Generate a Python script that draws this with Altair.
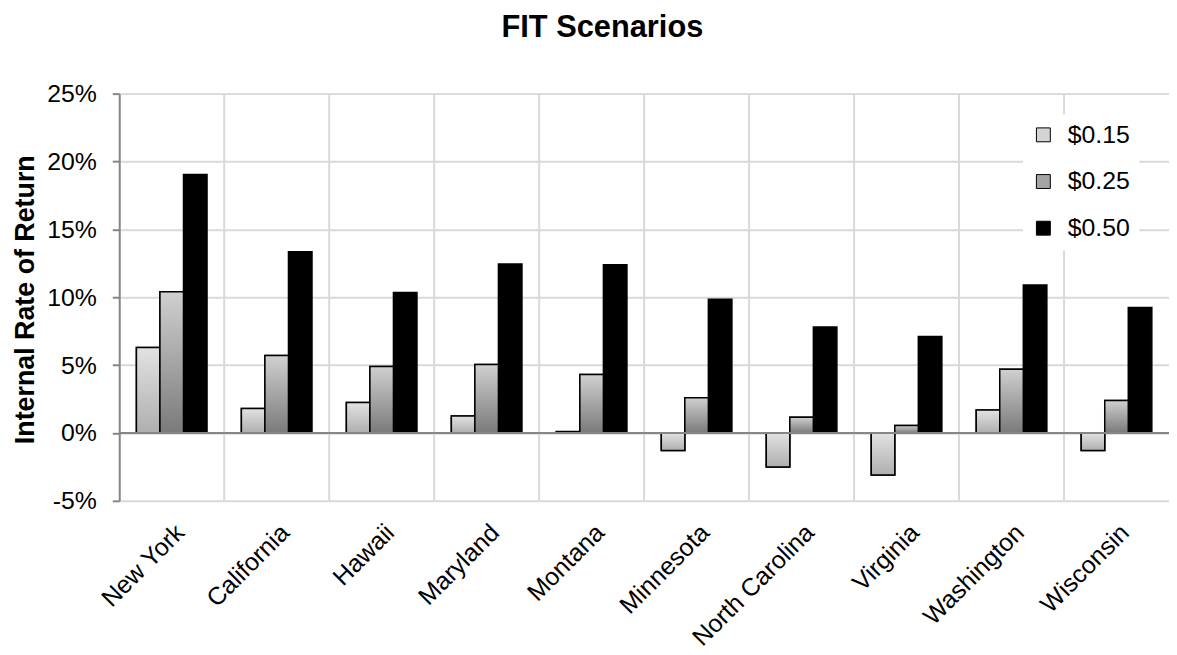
import altair as alt
import pandas as pd

states = ["New York", "California", "Hawaii", "Maryland", "Montana",
          "Minnesota", "North Carolina", "Virginia", "Washington", "Wisconsin"]
series = ["$0.15", "$0.25", "$0.50"]
irr_015 = [6.3, 1.8, 2.25, 1.25, 0.1, -1.3, -2.5, -3.1, 1.7, -1.3]
irr_025 = [10.4, 5.7, 4.9, 5.05, 4.3, 2.6, 1.15, 0.55, 4.7, 2.4]
irr_050 = [19.05, 13.35, 10.35, 12.45, 12.4, 9.85, 7.8, 7.1, 10.9, 9.25]
y_ticks = [-5, 0, 5, 10, 15, 20, 25]

rows = []
for s, vals in zip(series, [irr_015, irr_025, irr_050]):
    for st, v in zip(states, vals):
        rows.append({"state": st, "series": s, "irr": v})
df = pd.DataFrame(rows)

FONT = "Liberation Sans"

x_axis = alt.Axis(labelAngle=-45, labelFontSize=25, labelFont=FONT, labelColor="black",
                  ticks=False, domain=False, grid=False, labelPadding=19, title=None,
                  labelAlign="right", labelBaseline="top", labelLimit=400)
x_scale = alt.Scale(domain=states, paddingInner=0, paddingOuter=0)
x_enc = alt.X("state:N", scale=x_scale, axis=x_axis)
xoff = alt.XOffset("series:N", scale=alt.Scale(domain=series, paddingInner=0, paddingOuter=0.73))
y_axis = alt.Axis(values=y_ticks, labelExpr="datum.value + '%'", labelFontSize=25,
                  labelFont=FONT, labelColor="black", labelPadding=16,
                  tickSize=7, tickColor="#868686", tickWidth=2,
                  domainColor="#868686", domainWidth=2,
                  gridColor="#d9d9d9", gridWidth=2,
                  title="Internal Rate of Return", titleFont=FONT, titleFontSize=27,
                  titleFontWeight="bold", titleColor="black",
                  titleX=-86, titleY=207, titleAngle=270, titleAlign="center",
                  titleBaseline="alphabetic")
y_scale = alt.Scale(domain=[-5, 25], nice=False, zero=False)
y_enc = alt.Y("irr:Q", scale=y_scale, axis=y_axis, stack=None)

grad15 = alt.LinearGradient(gradient="linear", x1=0, x2=0, y1=0, y2=1,
                            stops=[alt.GradientStop(color="#e2e2e2", offset=0),
                                   alt.GradientStop(color="#afafaf", offset=1)])
grad25 = alt.LinearGradient(gradient="linear", x1=0, x2=0, y1=0, y2=1,
                            stops=[alt.GradientStop(color="#d0d0d0", offset=0),
                                   alt.GradientStop(color="#7a7a7a", offset=1)])

vgrid = alt.Chart(pd.DataFrame({"state": states[1:]})).mark_rule(
    color="#d9d9d9", strokeWidth=2
).encode(x=alt.X("state:N", scale=x_scale, axis=x_axis, bandPosition=0))

base = alt.Chart(df).mark_bar(stroke="black", strokeWidth=1.5).encode(
    x=x_enc, xOffset=xoff, y=y_enc,
    color=alt.Color("series:N",
                    scale=alt.Scale(domain=series, range=["#d4d4d4", "#a4a4a4", "#000000"]),
                    legend=alt.Legend(orient="none", legendX=910, legendY=21, padding=8,
                                      fillColor="white", strokeColor="white",
                                      symbolType="square", symbolSize=196,
                                      symbolStrokeColor="black", symbolStrokeWidth=1,
                                      symbolOpacity=1,
                                      labelFontSize=25, labelFont=FONT, labelColor="black",
                                      labelOffset=12, rowPadding=21, title=None)),
)

over15 = alt.Chart(df).transform_filter(alt.datum.series == "$0.15").mark_bar(
    fill=grad15, stroke="black", strokeWidth=1.5
).encode(x=x_enc, xOffset=xoff, y=y_enc)

over25 = alt.Chart(df).transform_filter(alt.datum.series == "$0.25").mark_bar(
    fill=grad25, stroke="black", strokeWidth=1.5
).encode(x=x_enc, xOffset=xoff, y=y_enc)

zero = alt.Chart(pd.DataFrame({"irr": [0]})).mark_rule(color="#868686", strokeWidth=2).encode(
    y=alt.Y("irr:Q", scale=y_scale, axis=y_axis)
)

chart = alt.layer(vgrid, base, over15, over25, zero).properties(
    width=1057, height=410,
    title=alt.Title("FIT Scenarios", font=FONT, fontSize=31, fontWeight="bold",
                    color="black", anchor="middle", dx=-42, offset=14,
                    baseline="alphabetic"),
    autosize=alt.AutoSizeParams(type="none"),
    padding={"left": 112, "top": 84, "right": 0, "bottom": 150},
).configure_view(stroke=None).configure(background="white")

chart.save("out.html", embed_options={"renderer": "svg", "actions": False})
